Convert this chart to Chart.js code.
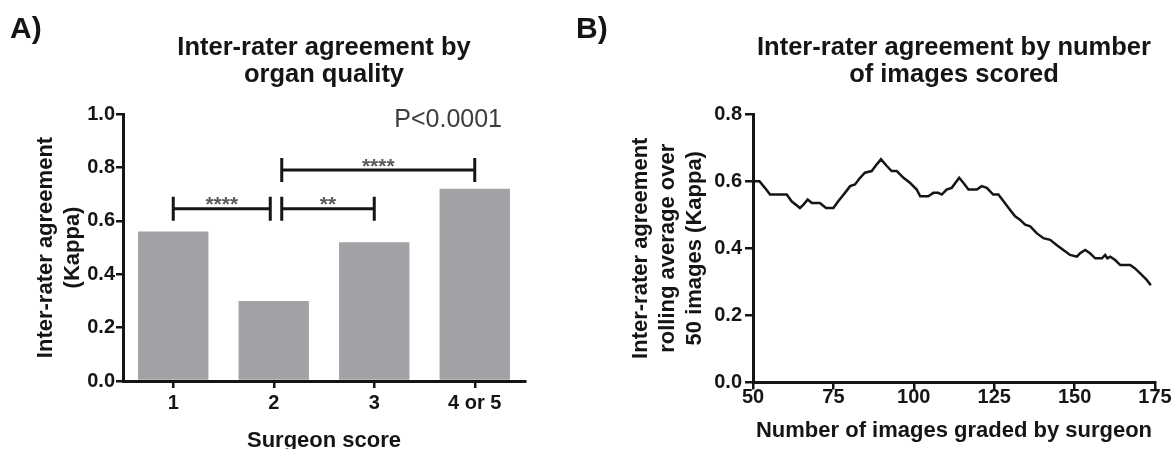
<!DOCTYPE html>
<html>
<head>
<meta charset="utf-8">
<script src="https://cdn.jsdelivr.net/npm/chart.js@4.4.1/dist/chart.umd.min.js"></script>
<style>
	html, body { margin: 0; padding: 0; background: #fff; overflow: hidden; }
	#wrap { position: relative; width: 1173px; height: 449px; }
	.panel { position: absolute; top: 0; height: 449px; }
	#panel_a { left: 0; width: 566px; }
	#panel_b { left: 566px; width: 607px; }
</style>
</head>
<body>
<div id="wrap">
	<div class="panel" id="panel_a"><canvas id="chart_score" width="566" height="449"></canvas></div>
	<div class="panel" id="panel_b"><canvas id="chart_rolling" width="607" height="449"></canvas></div>
</div>
<script>
'use strict';

// panel A: kappa by surgeon score
const surgeonScores = ['1', '2', '3', '4 or 5'];
const kappaByScore = [0.56, 0.30, 0.52, 0.72];
const kappaTicksA = [0, 0.2, 0.4, 0.6, 0.8, 1.0];
// [from category, to category, bracket level, stars]
const comparisons = [
	[0, 1, 0.645, '****'],
	[1, 2, 0.645, '**'],
	[1, 3, 0.79, '****'],
];
const overallP = 'P<0.0001';

// panel B: rolling kappa over 50 images
const imagesScored = [
	50, 52, 53.7, 55.3, 60.5, 62, 64.6, 65.7, 67, 68.3,
	70.8, 72.7, 75, 76.5, 78.6, 80.2, 81.7, 83.3, 84.8, 86.9,
	88.5, 89.8, 91.6, 93.1, 94.7, 96.8, 98.8, 100.9, 102, 104.5,
	106.1, 107.6, 108.7, 110.2, 111.8, 114.1, 115.4, 117, 119.6, 121.1,
	122.7, 124.7, 126.3, 127.9, 129.9, 131.5, 133, 134.6, 136.2, 138.2,
	140.3, 142.4, 144.4, 146.5, 148.6, 150.7, 151.7, 153.3, 154.8, 156.4,
	158.5, 159.5, 160.2, 161.1, 162.6, 164.2, 167.3, 168.8, 170.4, 172.5,
	173.7,
];
const rollingKappa = [
	0.60, 0.60, 0.58, 0.56, 0.56, 0.54, 0.52, 0.53, 0.545, 0.535,
	0.535, 0.52, 0.52, 0.54, 0.565, 0.585, 0.59, 0.61, 0.625, 0.63,
	0.65, 0.665, 0.645, 0.63, 0.63, 0.61, 0.595, 0.575, 0.555, 0.555,
	0.565, 0.565, 0.56, 0.575, 0.58, 0.61, 0.595, 0.575, 0.575, 0.585,
	0.58, 0.56, 0.56, 0.54, 0.515, 0.495, 0.485, 0.47, 0.465, 0.445,
	0.43, 0.425, 0.41, 0.395, 0.38, 0.375, 0.385, 0.395, 0.385, 0.37,
	0.37, 0.38, 0.37, 0.375, 0.365, 0.35, 0.35, 0.34, 0.325, 0.305,
	0.29,
];
const imagesTicks = [50, 75, 100, 125, 150, 175];
const kappaTicksB = [0, 0.2, 0.4, 0.6, 0.8];

const FONT = '"Liberation Sans", Arial, Helvetica, sans-serif';
const INK = '#151515';
const BAR_GREY = '#a2a2a6';

Chart.defaults.font.family = FONT;
Chart.defaults.color = INK;

// "A)" / "B)" and the two-line title above the plot
const panelText = {
	id: 'panelText',
	afterDraw(chart, args, opts) {
		let ctx = chart.ctx,
			area = chart.chartArea,
			mid = (area.left + area.right) / 2;
		ctx.save();
		ctx.fillStyle = INK;
		ctx.textBaseline = 'middle';
		ctx.textAlign = 'left';
		ctx.font = `bold 30px ${FONT}`;
		ctx.fillText(opts.letter, 10, 30);
		ctx.textAlign = 'center';
		ctx.font = `bold 25.5px ${FONT}`;
		opts.title.forEach((line, i) => ctx.fillText(line, mid, 48 + i * 27));
		ctx.restore();
	}
};

// brackets with stars and the overall p value
const significance = {
	id: 'significance',
	afterDatasetsDraw(chart) {
		let {ctx, chartArea, scales: {x, y}} = chart,
			starts = comparisons.map(c => c[0]),
			ends = comparisons.map(c => c[1]);
		ctx.save();
		ctx.strokeStyle = INK;
		ctx.lineWidth = 3;
		comparisons.forEach(([from, to, level, stars]) => {
			let x1 = x.getPixelForValue(from) + (ends.includes(from) ? 8 : 0),
				x2 = x.getPixelForValue(to) - (starts.includes(to) ? 3.5 : 0),
				yl = y.getPixelForValue(level);
			ctx.beginPath();
			ctx.moveTo(x1, yl);
			ctx.lineTo(x2, yl);
			ctx.moveTo(x1, yl - 12);
			ctx.lineTo(x1, yl + 12);
			ctx.moveTo(x2, yl - 12);
			ctx.lineTo(x2, yl + 12);
			ctx.stroke();
			ctx.fillStyle = '#5a5a5a';
			ctx.font = `bold 21px ${FONT}`;
			ctx.textAlign = 'center';
			ctx.textBaseline = 'alphabetic';
			ctx.fillText(stars, (x1 + x2) / 2, yl + 2.5);
		});
		ctx.fillStyle = '#3c3c3c';
		ctx.font = `25px ${FONT}`;
		ctx.textAlign = 'right';
		ctx.textBaseline = 'middle';
		ctx.fillText(overallP, chartArea.right - 23, chartArea.top + 6);
		ctx.restore();
	}
};

function axisGrid(tickLength) {
	return {
		display: true,
		offset: false,
		drawOnChartArea: false,
		drawTicks: true,
		tickLength: tickLength,
		color: INK,
		lineWidth: 2.5,
	};
}

function axisTitle(text, size, lineHeight, padding) {
	return {
		display: true,
		text: text,
		color: INK,
		font: {family: FONT, size: size, weight: 'bold', lineHeight: lineHeight},
		padding: padding,
	};
}

const border = {display: true, color: INK, width: 3};
const tickFont = {family: FONT, size: 20, weight: 'bold', lineHeight: 1.2};

function renderScoreChart() {
	let ctx = document.getElementById('chart_score').getContext('2d');
	window.ChartScore = new Chart(ctx, {
		type: 'bar',
		data: {
			labels: surgeonScores,
			datasets: [{
				data: kappaByScore,
				backgroundColor: BAR_GREY,
				borderWidth: 0,
				barPercentage: 0.7,
				categoryPercentage: 1,
			}],
		},
		plugins: [panelText, significance],
		options: {
			responsive: false,
			animation: false,
			layout: {padding: {left: 0, right: 41, top: 114, bottom: 0}},
			plugins: {
				legend: {display: false},
				tooltip: {enabled: false},
				panelText: {letter: 'A)', title: ['Inter-rater agreement by', 'organ quality']},
			},
			scales: {
				x: {
					offset: true,
					grid: axisGrid(7),
					border: border,
					ticks: {color: INK, font: tickFont, padding: 3},
					title: axisTitle('Surgeon score', 22, 1.2, {top: 0, bottom: -5}),
					afterFit: s => { s.height = 68; },
				},
				y: {
					min: kappaTicksA[0],
					max: kappaTicksA[kappaTicksA.length - 1],
					grid: axisGrid(7),
					border: border,
					ticks: {
						color: INK, font: tickFont, padding: 1,
						stepSize: kappaTicksA[1] - kappaTicksA[0],
						callback: v => v.toFixed(1),
					},
					title: axisTitle(['Inter-rater agreement', '(Kappa)'], 22, 27 / 22, {top: 32.5, bottom: 0}),
					afterFit: s => { s.width = 123; },
				},
			},
		},
	});
}

function renderRollingChart() {
	let ctx = document.getElementById('chart_rolling').getContext('2d'),
		points = imagesScored.map((v, i) => ({x: v, y: rollingKappa[i]}));
	window.ChartRolling = new Chart(ctx, {
		type: 'line',
		data: {
			datasets: [{
				data: points,
				borderColor: INK,
				borderWidth: 2.5,
				pointRadius: 0,
				fill: false,
				tension: 0,
			}],
		},
		plugins: [panelText],
		options: {
			responsive: false,
			animation: false,
			layout: {padding: {left: 0, right: 18, top: 114, bottom: 0}},
			plugins: {
				legend: {display: false},
				tooltip: {enabled: false},
				panelText: {letter: 'B)', title: ['Inter-rater agreement by number', 'of images scored']},
			},
			scales: {
				x: {
					type: 'linear',
					min: imagesTicks[0],
					max: imagesTicks[imagesTicks.length - 1],
					grid: axisGrid(7),
					border: border,
					ticks: {color: INK, font: tickFont, padding: -4.5, stepSize: imagesTicks[1] - imagesTicks[0]},
					title: axisTitle('Number of images graded by surgeon', 22, 1.2, {top: 0, bottom: 4.8}),
					afterFit: s => { s.height = 66.5; },
				},
				y: {
					min: kappaTicksB[0],
					max: kappaTicksB[kappaTicksB.length - 1],
					grid: axisGrid(8),
					border: border,
					ticks: {
						color: INK, font: tickFont, padding: 3,
						stepSize: kappaTicksB[1] - kappaTicksB[0],
						callback: v => v.toFixed(1),
					},
					title: axisTitle(['Inter-rater agreement', 'rolling average over', '50 images (Kappa)'], 22, 27 / 22, {top: 61.3, bottom: 0}),
					afterFit: s => { s.width = 187; },
				},
			},
		},
	});
}

renderScoreChart();
renderRollingChart();
</script>
</body>
</html>
